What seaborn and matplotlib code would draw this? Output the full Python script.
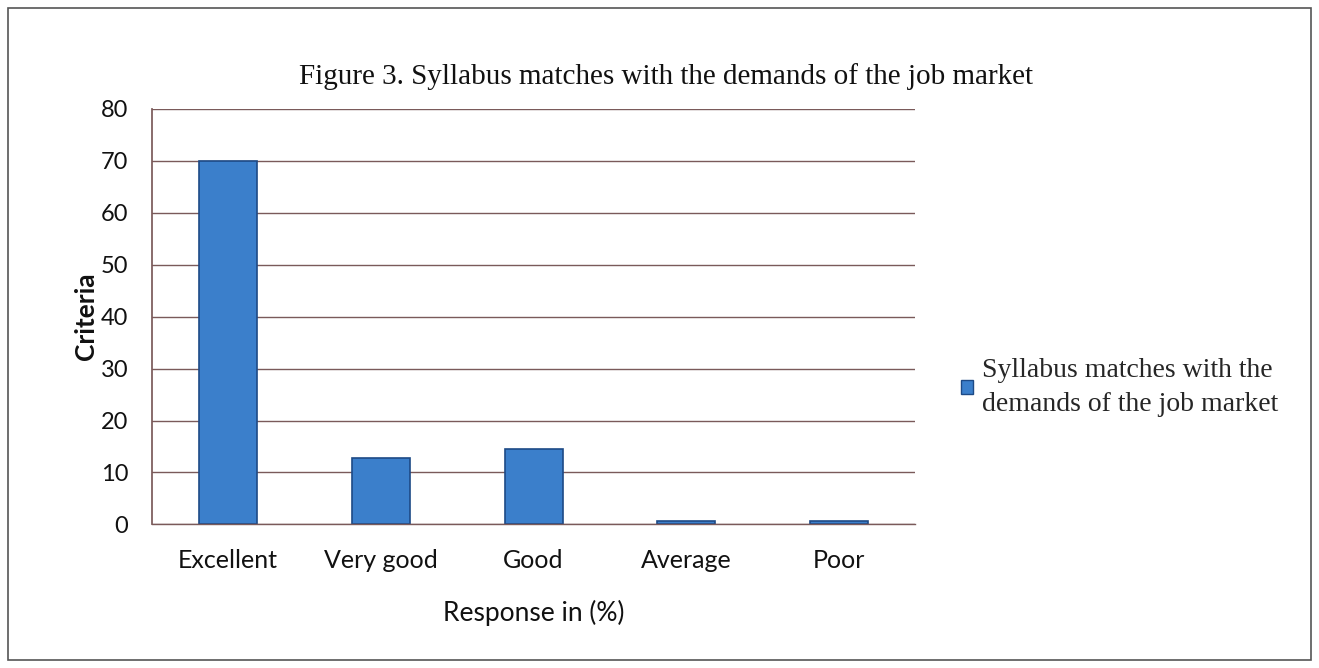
import matplotlib
matplotlib.use("Agg")
import matplotlib.pyplot as plt
import seaborn as sns
import pandas as pd
from matplotlib.patches import Rectangle, Patch

categories = ["Excellent", "Very good", "Good", "Average", "Poor"]
values = [70, 12.8, 14.6, 0.7, 0.7]
series_name = "Syllabus matches with the\ndemands of the job market"
title = "Figure 3. Syllabus matches with the demands of the job market"
y_ticks = [0, 10, 20, 30, 40, 50, 60, 70, 80]

df = pd.DataFrame({"category": categories, "value": values})

sns.set_theme(style="white")
plt.rcParams['font.family'] = ['Lato', 'DejaVu Sans']

fig = plt.figure(figsize=(13.19, 6.68), dpi=100)
ax = fig.add_axes([0.115, 0.215, 0.579, 0.622])

bar_color = "#3b7fcb"
grid_c = "#7a5a5a"
sns.barplot(data=df, x="category", y="value", ax=ax, color=bar_color,
            width=0.38, edgecolor="#1d4a86", linewidth=1.2, saturation=1)

ax.set_ylim(0, 80)
ax.set_yticks(y_ticks)
ax.set_yticklabels([str(t) for t in y_ticks], fontsize=17, color="#111111")
ax.set_xlim(-0.5, 4.5)
ax.tick_params(axis='x', labelsize=18, colors="#111111", length=0, pad=18)
ax.tick_params(axis='y', length=7, width=1, color=grid_c, direction='out', pad=10)
ax.yaxis.grid(True, color=grid_c, linewidth=1.0)
ax.set_axisbelow(True)
for s in ["top", "right"]:
    ax.spines[s].set_visible(False)
ax.spines["left"].set_color(grid_c)
ax.spines["left"].set_bounds(0, 80)
ax.spines["bottom"].set_color(grid_c)
ax.spines["bottom"].set_linewidth(1.0)

ax.set_xlabel("Response in (%)", fontsize=19, color="#111111", labelpad=20)
ax.set_ylabel("Criteria", fontsize=19, fontweight="bold", color="#111111", labelpad=2)

fig.text(0.505, 0.886, title, ha="center", va="center", fontsize=21,
         family=["Liberation Serif", "DejaVu Serif"], color="#111111")

handle = Patch(facecolor=bar_color, edgecolor="#1d4a86")
leg = fig.legend([handle], [series_name], loc="center left",
                 bbox_to_anchor=(0.71, 0.42), frameon=False,
                 prop={"family": ["Liberation Serif", "DejaVu Serif"], "size": 20},
                 handlelength=0.4, handleheight=0.4, handletextpad=0.35,
                 labelspacing=0.2)
for t in leg.get_texts():
    t.set_linespacing(1.5)

fig.patches.append(Rectangle((0.006, 0.012), 0.988, 0.976, transform=fig.transFigure,
                             fill=False, edgecolor="#555555", linewidth=1.2))

fig.savefig("out.png", dpi=100)
